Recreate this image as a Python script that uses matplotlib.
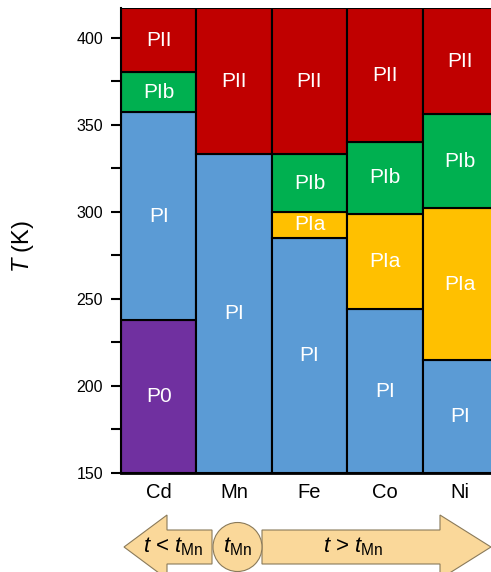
import matplotlib.pyplot as plt
from matplotlib.patches import Polygon, Circle

plt.rcParams['font.family'] = ['Liberation Sans', 'DejaVu Sans']
plt.rcParams['mathtext.fontset'] = 'custom'
plt.rcParams['mathtext.rm'] = 'Liberation Sans'
plt.rcParams['mathtext.it'] = 'Liberation Sans:italic'

# data: phase sequence (bottom to top) and boundary temperatures per metal
metals = ['Cd', 'Mn', 'Fe', 'Co', 'Ni']
t_low, t_high = 150, 417
phases = {
    'Cd': ['P0', 'PI', 'PIb', 'PII'],
    'Mn': ['PI', 'PII'],
    'Fe': ['PI', 'PIa', 'PIb', 'PII'],
    'Co': ['PI', 'PIa', 'PIb', 'PII'],
    'Ni': ['PI', 'PIa', 'PIb', 'PII'],
}
bounds = {
    'Cd': [238, 357, 380],
    'Mn': [333],
    'Fe': [285, 300, 333],
    'Co': [244, 299, 340],
    'Ni': [215, 302, 356],
}
colors = {'P0': '#7030A0', 'PI': '#5B9BD5', 'PIa': '#FFC000',
          'PIb': '#00B050', 'PII': '#C00000'}

W, H = 491, 572
fig = plt.figure(figsize=(W / 100, H / 100), dpi=100)
ax = fig.add_axes([121 / W, 99 / H, 377 / W, 465 / H])

for i, m in enumerate(metals):
    edges = [t_low] + bounds[m] + [t_high]
    for j, ph in enumerate(phases[m]):
        lo, hi = edges[j], edges[j + 1]
        ax.bar(i, hi - lo, bottom=lo, width=1.0, color=colors[ph],
               edgecolor='black', linewidth=1.5)
        ax.text(i, (lo + hi) / 2, ph, color='white', fontsize=15,
                ha='center', va='center')

ax.set_xlim(-0.5, 4.5)
ax.set_ylim(t_low, t_high)
ax.set_xticks(range(len(metals)))
ax.set_xticklabels(metals, fontsize=14.5)
ax.tick_params(axis='x', length=0, pad=7)
ax.set_yticks([150, 200, 250, 300, 350, 400])
ax.set_yticks([175, 225, 275, 325, 375], minor=True)
ax.tick_params(axis='y', which='both', length=7, width=1.5, labelsize=11.5, pad=6)
for s in ['top', 'right']:
    ax.spines[s].set_visible(False)
ax.spines['left'].set_linewidth(1.5)
ax.spines['bottom'].set_linewidth(2)

# bottom arrows and y label in pixel coordinates
ov = fig.add_axes([0, 0, 1, 1])
ov.set_xlim(0, W)
ov.set_ylim(H, 0)
ov.axis('off')
ov.text(23, 246, r'$T$ (K)', fontsize=17, rotation=90, ha='center', va='center')

fill, edge = '#FAD89A', '#8A7A5A'
cy = 547
left = [(124, cy), (167, 515), (167, 530), (212, 530), (212, 564),
        (167, 564), (167, 579)]
right = [(262, 530), (440, 530), (440, 515), (491, cy), (440, 579),
         (440, 564), (262, 564)]
ov.add_patch(Polygon(left, closed=True, fc=fill, ec=edge, lw=0.8))
ov.add_patch(Polygon(right, closed=True, fc=fill, ec=edge, lw=0.8))
ov.add_patch(Circle((237.5, cy), 24.5, fc=fill, ec=edge, lw=0.8))
ov.text(173, cy, r'$t$ < $t_{\rm Mn}$', fontsize=16, ha='center', va='center')
ov.text(237.5, cy, r'$t_{\rm Mn}$', fontsize=16, ha='center', va='center')
ov.text(353, cy, r'$t$ > $t_{\rm Mn}$', fontsize=16, ha='center', va='center')

fig.savefig('out.png', dpi=100)
